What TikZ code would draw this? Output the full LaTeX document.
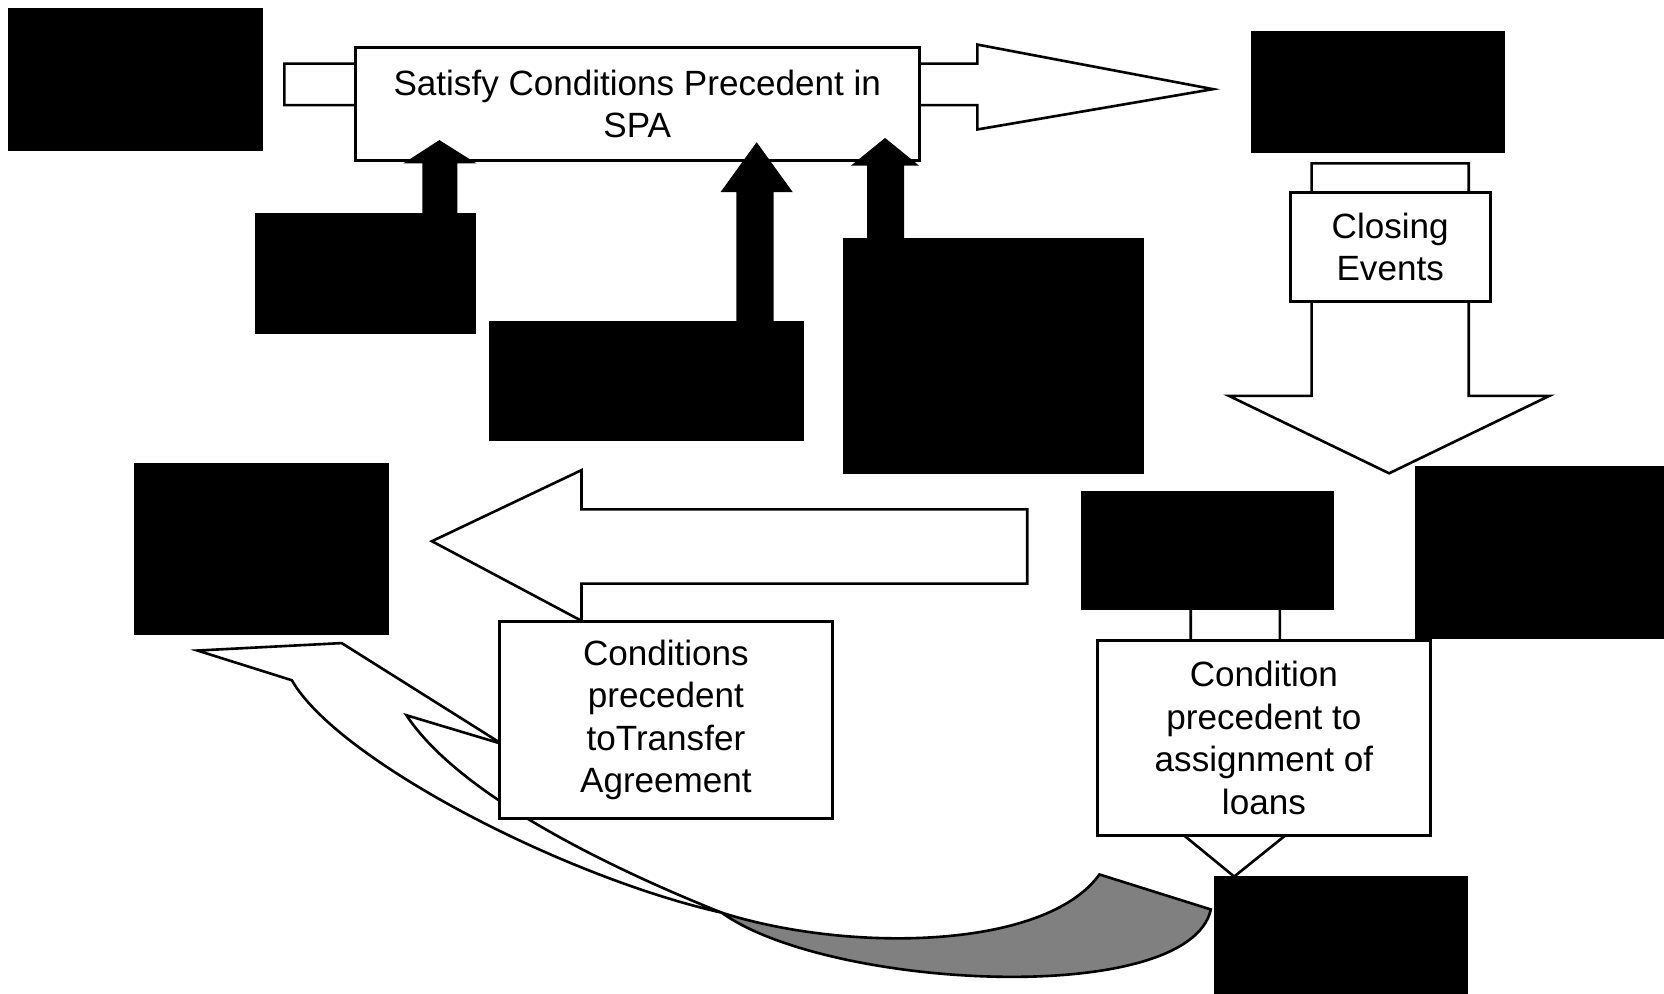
\documentclass[tikz,border=0pt]{standalone}
\usepackage{fontspec}
\setmainfont{Liberation Sans}
\usepackage{tikz}

\begin{document}
\begin{tikzpicture}[x=0.01cm,y=-0.01cm]
    \tikzstyle{redacted}=[rectangle,draw=black,fill=black,inner sep=0pt]
    \tikzstyle{textbox}=[rectangle,draw=black,fill=white,line width=0.8pt,inner sep=0pt,align=center,font=\fontsize{9.4}{11.4}\selectfont]
    \tikzstyle{hollow}=[draw=black,fill=white,line width=0.7pt,line join=miter]
    \tikzstyle{shaded}=[draw=black,fill=black!50,line width=0.7pt]
    \useasboundingbox (0,0) rectangle (1568,936);
    % top row: arrow to the right behind the SPA box
    \draw[hollow] (268,60) -- (921,60) -- (921,42) -- (1143,84) -- (921,122) -- (921,99) -- (268,99) -- cycle;
    \node (spa)[textbox,minimum width=5.31cm,minimum height=1.06cm] at (600.5,98) {Satisfy Conditions Precedent in\\SPA};
    \fill (398,201) -- (398,154) -- (380,154) -- (414,132) -- (449,154) -- (431,154) -- (431,201) -- cycle;
    \fill (694,303) -- (694,181) -- (679,181) -- (713,134) -- (747,181) -- (729,181) -- (729,303) -- cycle;
    \fill (817,225) -- (817,156) -- (802,156) -- (834,130) -- (866,156) -- (852,156) -- (852,225) -- cycle;
    \node (topleft)[redacted,minimum width=2.39cm,minimum height=1.34cm] at (127.5,75) {};
    \node (partyA)[redacted,minimum width=2.07cm,minimum height=1.13cm] at (344.5,257.5) {};
    \node (partyB)[redacted,minimum width=2.95cm,minimum height=1.12cm] at (609.5,359) {};
    \node (partyC)[redacted,minimum width=2.82cm,minimum height=2.21cm] at (936,335.5) {};
    \node (topright)[redacted,minimum width=2.37cm,minimum height=1.13cm] at (1298.5,86.5) {};
    % right column: closing
    \draw[hollow] (1236,154) -- (1384,154) -- (1384,373) -- (1460,373) -- (1309,446) -- (1158,373) -- (1236,373) -- cycle;
    \node (closing)[textbox,minimum width=1.88cm,minimum height=1.03cm] at (1310,232.5) {Closing\\Events};
    \node (midright)[redacted,minimum width=2.34cm,minimum height=1.61cm] at (1451,520.5) {};
    % bottom: curved arrow back to the left
    \draw[hollow] (186,613) -- (322,606) -- (473,701) -- (383,674) .. controls (430,745) and (560,812) .. (680,860) .. controls (530,826) and (318,716) .. (275,641) -- cycle;
    \draw[shaded] (680,860) .. controls (800,898) and (985,895) .. (1036,824) -- (1141,857) .. controls (1120,950) and (780,932) .. (680,860) -- cycle;
    \draw[hollow] (968,480) -- (968,550) -- (548,550) -- (548,585) -- (407,510) -- (548,443) -- (548,480) -- cycle;
    \node (transfer)[textbox,minimum width=3.13cm,minimum height=1.85cm] at (627.5,678.5) {Conditions\\precedent\\toTransfer\\Agreement};
    \node (midleft)[redacted,minimum width=2.39cm,minimum height=1.61cm] at (246.5,517.5) {};
    % assignment of loans
    \draw[hollow] (1122,573) -- (1206,573) -- (1206,785) -- (1214,785) -- (1163,826) -- (1113,785) -- (1122,785) -- cycle;
    \node (assign)[textbox,minimum width=3.14cm,minimum height=1.83cm] at (1191,695.5) {Condition\\precedent to\\assignment of\\loans};
    \node (midcentre)[redacted,minimum width=2.37cm,minimum height=1.11cm] at (1137.5,518.5) {};
    \node (bottom)[redacted,minimum width=2.38cm,minimum height=1.10cm] at (1264,881) {};
\end{tikzpicture}
\end{document}
